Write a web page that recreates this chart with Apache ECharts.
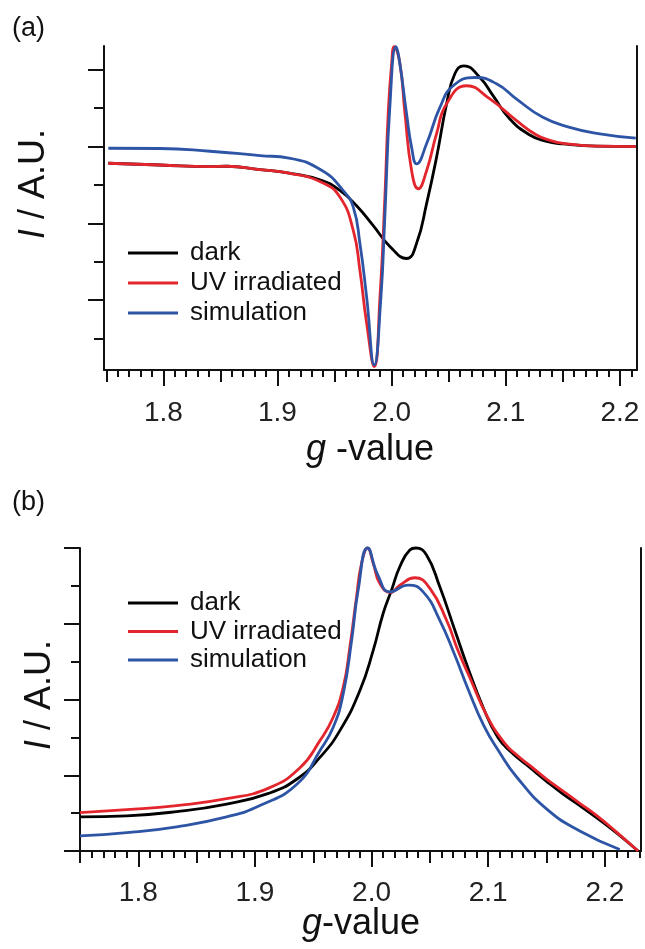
<!DOCTYPE html>
<html>
<head>
<meta charset="utf-8">
<script src="https://cdn.jsdelivr.net/npm/echarts@6/dist/echarts.min.js"></script>
<style>
  html, body { margin: 0; padding: 0; background: #fff; }
  #chart { width: 645px; height: 949px; }
</style>
</head>
<body>
<div id="chart"></div>
<script>
// (a) derivative spectra, [g-value, intensity]
const darkA = [
  [1.7518, -0.217], [1.7971, -0.240], [1.8409, -0.262], [1.8555, -0.256], [1.8847, -0.300],
  [1.9101, -0.345], [1.9390, -0.442], [1.9547, -0.571], [1.9693, -0.770], [1.9839, -1.030],
  [1.9985, -1.300], [2.0131, -1.458], [2.0219, -1.260], [2.0307, -0.740], [2.0394, -0.139],
  [2.0482, 0.558], [2.0554, 0.948], [2.0633, 1.052], [2.0773, 0.900], [2.0890, 0.660],
  [2.1036, 0.360], [2.1211, 0.150], [2.1350, 0.070], [2.1500, 0.035], [2.1798, 0.005],
  [2.2139, 0.000]
];
const uvA = [
  [1.7518, -0.217], [1.7971, -0.240], [1.8409, -0.262], [1.8555, -0.256], [1.8847, -0.300],
  [1.9101, -0.345], [1.9390, -0.468], [1.9547, -0.658], [1.9664, -1.091], [1.9722, -1.610],
  [1.9781, -2.299], [1.9848, -2.866], [1.9898, -1.957], [1.9941, -0.658], [1.9970, 0.429],
  [2.0000, 1.074], [2.0023, 1.300], [2.0073, 1.078], [2.0117, 0.429], [2.0175, -0.312],
  [2.0233, -0.549], [2.0307, -0.312], [2.0394, 0.169], [2.0482, 0.558], [2.0657, 0.792],
  [2.0861, 0.620], [2.1095, 0.338], [2.1270, 0.150], [2.1400, 0.075], [2.1500, 0.043],
  [2.1798, 0.005], [2.2139, 0.000]
];
const simA = [
  [1.7518, -0.022], [1.7971, -0.025], [1.8409, -0.061], [1.8847, -0.117], [1.9101, -0.150],
  [1.9390, -0.312], [1.9574, -0.571], [1.9664, -0.788], [1.9722, -1.260], [1.9781, -1.957],
  [1.9848, -2.844], [1.9905, -1.990], [1.9941, -0.900], [1.9985, 0.530], [2.0038, 1.300],
  [2.0064, 1.160], [2.0131, 0.429], [2.0175, -0.008], [2.0219, -0.225], [2.0307, 0.039],
  [2.0423, 0.510], [2.0539, 0.792], [2.0729, 0.900], [2.0919, 0.818], [2.1095, 0.619],
  [2.1325, 0.381], [2.1561, 0.251], [2.1795, 0.173], [2.2139, 0.110]
];

// (b) integrated spectra, [g-value, intensity]
const darkB = [
  [1.7500, 0.450], [1.7901, 0.464], [1.8329, 0.520], [1.8757, 0.620], [1.9117, 0.760],
  [1.9364, 0.954], [1.9557, 1.236], [1.9728, 1.589], [1.9900, 2.119], [2.0014, 2.649],
  [2.0099, 3.135], [2.0171, 3.444], [2.0242, 3.752], [2.0328, 3.974], [2.0380, 4.000],
  [2.0471, 3.907], [2.0585, 3.487], [2.0714, 2.914], [2.0828, 2.411], [2.0956, 1.898],
  [2.1082, 1.501], [2.1200, 1.300], [2.1356, 1.103], [2.1500, 0.920], [2.1642, 0.751],
  [2.1785, 0.600], [2.1928, 0.441], [2.2100, 0.240], [2.2285, 0.000]
];
const uvB = [
  [1.7500, 0.507], [1.7901, 0.545], [1.8329, 0.600], [1.8757, 0.690], [1.9117, 0.830],
  [1.9386, 1.100], [1.9557, 1.457], [1.9671, 1.766], [1.9757, 2.163], [1.9814, 2.693],
  [1.9871, 3.355], [1.9914, 3.797], [1.9966, 4.000], [2.0014, 3.797], [2.0071, 3.532],
  [2.0163, 3.413], [2.0242, 3.510], [2.0371, 3.607], [2.0500, 3.466], [2.0643, 3.046],
  [2.0740, 2.649], [2.0842, 2.291], [2.0988, 1.788], [2.1142, 1.420], [2.1250, 1.260],
  [2.1356, 1.130], [2.1500, 0.950], [2.1642, 0.790], [2.1785, 0.630], [2.1928, 0.470],
  [2.2100, 0.250], [2.2285, 0.000]
];
const simB = [
  [1.7500, 0.199], [1.7901, 0.242], [1.8329, 0.320], [1.8757, 0.450], [1.9043, 0.600],
  [1.9364, 0.887], [1.9557, 1.325], [1.9671, 1.633], [1.9757, 2.075], [1.9829, 2.781],
  [1.9885, 3.444], [1.9966, 4.000], [2.0054, 3.642], [2.0157, 3.421], [2.0314, 3.510],
  [2.0442, 3.421], [2.0585, 3.046], [2.0714, 2.583], [2.0825, 2.146], [2.0962, 1.656],
  [2.1099, 1.298], [2.1242, 0.980], [2.1500, 0.556], [2.1785, 0.265], [2.2128, 0.020]
];

const seriesNames = ['dark', 'UV irradiated', 'simulation'];
const colors = ['#000000', '#e3262d', '#2e55a5'];

// tick values
const gMajor = [1.8, 1.9, 2.0, 2.1, 2.2];
const gMid = [1.75, 1.85, 1.95, 2.05, 2.15];
const gMinor = [];
for (let k = 176; k <= 223; k++) {
  if (k % 5 !== 0) gMinor.push(k / 100);
}
const yMajorA = [-2, -1, 0, 1];
const yMinorA = [-2.5, -1.5, -0.5, 0.5];

const FONT = '"Liberation Sans", Arial, Helvetica, sans-serif';
const INK = '#111';

const chart = echarts.init(document.getElementById('chart'));

function xAxes(grid, min, max, labelMargin) {
  const base = {
    type: 'value', gridIndex: grid, min: min, max: max, position: 'bottom', offset: 0,
    splitLine: { show: false },
    axisLine: { show: false, onZero: false }
  };
  return [
    Object.assign({}, base, {
      axisLine: { show: true, onZero: false, lineStyle: { color: INK, width: 2 } },
      axisTick: { show: true, length: 16, customValues: gMajor, lineStyle: { color: INK, width: 2 } },
      axisLabel: {
        show: true, customValues: gMajor, margin: labelMargin, fontSize: 28,
        fontFamily: FONT, color: '#222', formatter: v => v.toFixed(1)
      }
    }),
    Object.assign({}, base, {
      axisTick: { show: true, length: 12, customValues: gMid, lineStyle: { color: INK, width: 2 } },
      axisLabel: { show: false }
    }),
    Object.assign({}, base, {
      axisTick: { show: true, length: 7, customValues: gMinor, lineStyle: { color: INK, width: 2 } },
      axisLabel: { show: false }
    })
  ];
}

function line(name, data, idx, xi, yi) {
  const c = colors[seriesNames.indexOf(name)];
  return {
    name: name, type: 'line', data: data,
    xAxisIndex: xi, yAxisIndex: yi,
    showSymbol: false, smooth: 0.5, clip: false,
    lineStyle: { color: c, width: 2.8 }, itemStyle: { color: c },
    z: 2 + idx
  };
}

function legend(top, gap) {
  return {
    orient: 'vertical', left: 128, top: top, padding: 0, itemGap: gap,
    itemWidth: 50, itemHeight: 3, icon: 'rect', selectedMode: false,
    data: seriesNames,
    textStyle: { fontSize: 26, fontFamily: FONT, color: INK, padding: [0, 0, 0, 7] }
  };
}

function title(text, x, y, rot) {
  return {
    type: 'text', x: x, y: y, rotation: rot || 0,
    style: {
      text: text, fill: INK, fontSize: 36, fontFamily: FONT,
      align: 'center', verticalAlign: 'middle',
      rich: { i: { fontStyle: 'italic', fontSize: 36, fontFamily: FONT, fill: INK } }
    }
  };
}

const option = {
  backgroundColor: '#fff',
  animation: false,
  grid: [
    { left: 104, right: 8, top: 46, bottom: 579, outerBoundsMode: 'none' },
    { left: 80, right: 4, top: 548, bottom: 98, outerBoundsMode: 'none' }
  ],
  xAxis: [].concat(xAxes(0, 1.748, 2.215, 29), xAxes(1, 1.75, 2.231, 28)),
  yAxis: [
    {
      type: 'value', gridIndex: 0, min: -2.91, max: 1.31, position: 'left',
      splitLine: { show: false }, axisLabel: { show: false },
      axisLine: { show: true, onZero: false, lineStyle: { color: INK, width: 2 } },
      axisTick: { show: true, length: 16, customValues: yMajorA, lineStyle: { color: INK, width: 2 } }
    },
    {
      type: 'value', gridIndex: 0, min: -2.91, max: 1.31, position: 'left', offset: 0,
      splitLine: { show: false }, axisLabel: { show: false },
      axisLine: { show: false, onZero: false },
      axisTick: { show: true, length: 10, customValues: yMinorA, lineStyle: { color: INK, width: 2 } }
    },
    {
      type: 'value', gridIndex: 0, min: -2.91, max: 1.31, position: 'right', offset: 0,
      splitLine: { show: false }, axisLabel: { show: false }, axisTick: { show: false },
      axisLine: { show: true, onZero: false, lineStyle: { color: INK, width: 2 } }
    },
    {
      type: 'value', gridIndex: 1, min: 0, max: 4, interval: 1, position: 'left',
      splitLine: { show: false }, axisLabel: { show: false },
      axisLine: { show: true, onZero: false, lineStyle: { color: INK, width: 2 } },
      axisTick: { show: true, length: 16, lineStyle: { color: INK, width: 2 } },
      minorTick: { show: true, splitNumber: 2, length: 9, lineStyle: { color: INK, width: 2 } }
    },
    {
      type: 'value', gridIndex: 1, min: 0, max: 4, position: 'right', offset: 0,
      splitLine: { show: false }, axisLabel: { show: false }, axisTick: { show: false },
      axisLine: { show: true, onZero: false, lineStyle: { color: INK, width: 2 } }
    }
  ],
  legend: [legend(240, 4), legend(590, 2.5)],
  graphic: [
    { type: 'text', x: 12, y: 29, style: { text: '(a)', fill: INK, fontSize: 27, fontFamily: FONT, align: 'left', verticalAlign: 'middle' } },
    { type: 'text', x: 12, y: 503, style: { text: '(b)', fill: INK, fontSize: 27, fontFamily: FONT, align: 'left', verticalAlign: 'middle' } },
    title('{i|I} / A.U.', 34, 184, Math.PI / 2),
    title('{i|I} / A.U.', 40, 695, Math.PI / 2),
    title('{i|g} -value', 370, 450),
    title('{i|g}-value', 361, 924)
  ],
  series: [
    line('dark', darkA, 0, 0, 0),
    line('UV irradiated', uvA, 1, 0, 0),
    line('simulation', simA, 2, 0, 0),
    line('dark', darkB, 0, 3, 3),
    line('UV irradiated', uvB, 1, 3, 3),
    line('simulation', simB, 2, 3, 3)
  ]
};

chart.setOption(option);
</script>
</body>
</html>
